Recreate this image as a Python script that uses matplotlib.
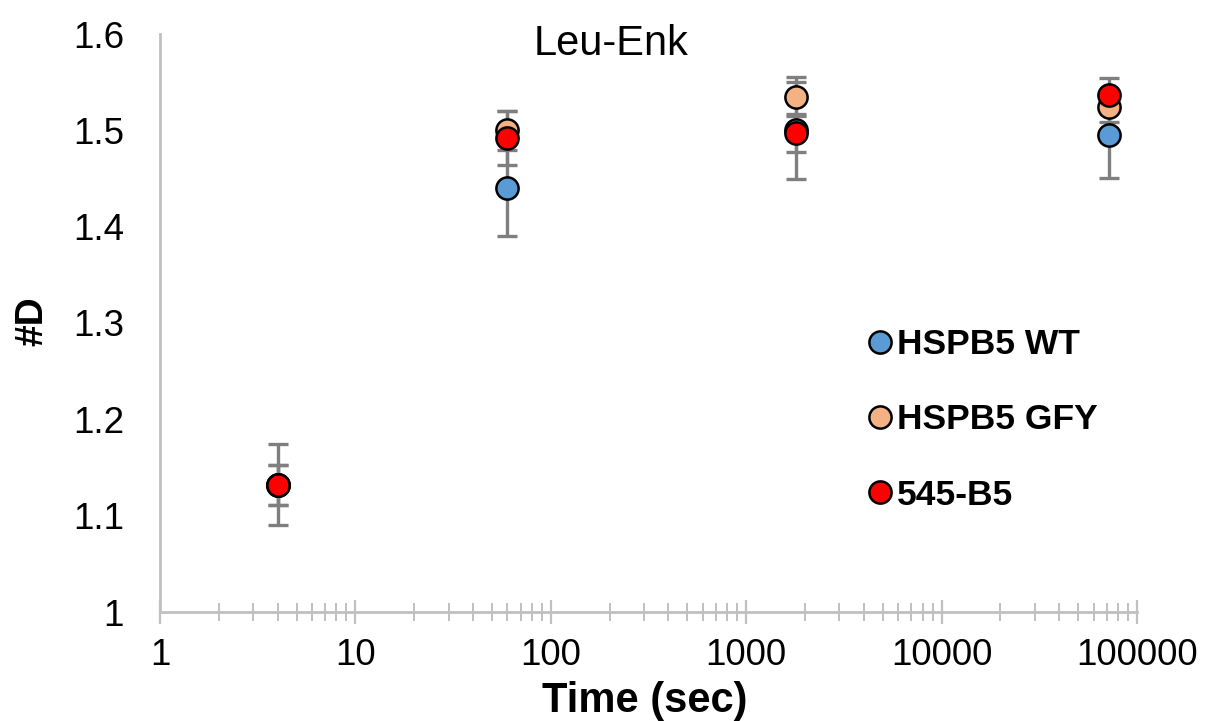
import matplotlib
matplotlib.use("Agg")
import matplotlib.pyplot as plt
from matplotlib.ticker import LogLocator, FixedLocator, FixedFormatter, NullFormatter

plt.rcParams["font.family"] = ["Liberation Sans", "DejaVu Sans"]

# data
times = [4, 60, 1800, 72000]
series_names = ["HSPB5 WT", "HSPB5 GFY", "545-B5"]
wt_mean = [1.132, 1.440, 1.500, 1.495]
wt_err = [0.042, 0.050, 0.050, 0.045]
gfy_mean = [1.132, 1.500, 1.535, 1.524]
gfy_err = [0.021, 0.020, 0.020, 0.015]
b5_mean = [1.132, 1.492, 1.497, 1.537]
b5_err = [0.021, 0.028, 0.020, 0.017]
colors = ["#5b9bd5", "#f4b183", "#ff0000"]

y_ticks = [1, 1.1, 1.2, 1.3, 1.4, 1.5, 1.6]
y_tick_labels = ["1", "1.1", "1.2", "1.3", "1.4", "1.5", "1.6"]
x_ticks = [1, 10, 100, 1000, 10000, 100000]
x_tick_labels = ["1", "10", "100", "1000", "10000", "100000"]

AXIS_GREY = "#c0c0c0"
W, H = 1207, 721

fig = plt.figure(figsize=(W / 100, H / 100), dpi=100)
ax = fig.add_axes([160 / W, 1 - 612 / H, 977 / W, 578 / H])

means = [wt_mean, gfy_mean, b5_mean]
errs = [wt_err, gfy_err, b5_err]
for i, (name, m, e, c) in enumerate(zip(series_names, means, errs, colors)):
    ax.errorbar(times, m, yerr=e, fmt="none", ecolor="#7f7f7f",
                elinewidth=2.4, capsize=7, capthick=2.4, zorder=2 + i)
    ax.plot(times, m, "o", color=c, markeredgecolor="black",
            markeredgewidth=1.8, markersize=16, zorder=5 + i, label=name)

ax.set_xscale("log")
ax.set_xlim(1, 100000)
ax.set_ylim(1, 1.6)

ax.xaxis.set_major_locator(FixedLocator(x_ticks))
ax.xaxis.set_major_formatter(FixedFormatter(x_tick_labels))
ax.xaxis.set_minor_locator(LogLocator(base=10, subs=range(2, 10), numticks=20))
ax.xaxis.set_minor_formatter(NullFormatter())
ax.yaxis.set_major_locator(FixedLocator(y_ticks))
ax.yaxis.set_major_formatter(FixedFormatter(y_tick_labels))

for side in ["top", "right"]:
    ax.spines[side].set_visible(False)
for side in ["left", "bottom"]:
    ax.spines[side].set_color(AXIS_GREY)
    ax.spines[side].set_linewidth(2)

ax.tick_params(axis="x", which="major", direction="inout", length=17,
               width=1.6, color=AXIS_GREY, labelsize=26.5, pad=10)
ax.tick_params(axis="x", which="minor", direction="inout", length=13,
               width=1.4, color=AXIS_GREY)
ax.tick_params(axis="y", which="both", length=0, labelsize=26.5, pad=26)

fig.text(645 / W, 1 - 712 / H, "Time (sec)", ha="center", va="baseline",
         fontsize=30, fontweight="bold")
fig.text(32 / W, 1 - 321 / H, "#D", ha="center", va="center", rotation=90,
         fontsize=28, fontweight="bold")
fig.text(611 / W, 1 - 55 / H, "Leu-Enk", ha="center", va="baseline",
         fontsize=30)

fs = 25.5
fpx = fs * 100 / 72
hl = 0.8
left_px = 879.5 - hl / 2 * fpx
ax.legend(loc="center left", bbox_to_anchor=(left_px / W, 1 - 420 / H),
          bbox_transform=fig.transFigure, frameon=False,
          prop={"weight": "bold", "size": fs},
          handlelength=hl, handletextpad=0.494 - hl / 2, labelspacing=1.19,
          markerscale=1.0, borderaxespad=0, borderpad=0)

fig.savefig("out.png", dpi=100)
